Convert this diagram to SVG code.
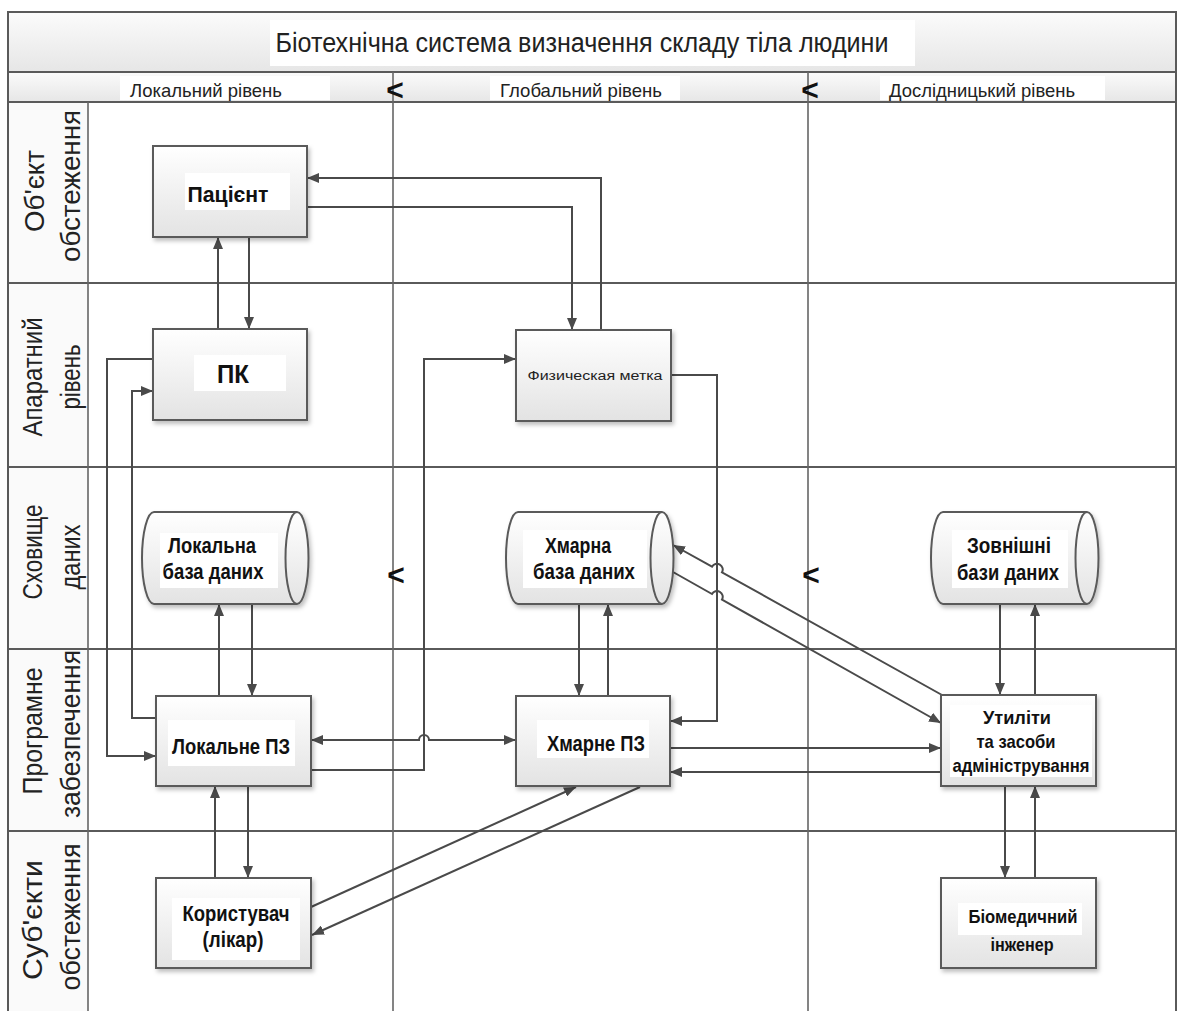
<svg xmlns="http://www.w3.org/2000/svg" width="1178" height="1011" viewBox="0 0 1178 1011">
<style>
.frame{fill:none;stroke:#5a5a5a;stroke-width:2}
.div{fill:none;stroke:#666;stroke-width:1.6}
.lane{font-family:"Liberation Sans Narrow","Liberation Sans",Arial,sans-serif;font-size:27px;fill:#222;text-anchor:middle}
.hdr{font-family:"Liberation Sans Narrow","Liberation Sans",Arial,sans-serif;font-size:19px;fill:#222;text-anchor:middle}
.ttl{font-family:"Liberation Sans Narrow","Liberation Sans",Arial,sans-serif;font-size:27px;fill:#222;text-anchor:middle}
.lbl{font-family:"Liberation Sans Narrow","Liberation Sans",Arial,sans-serif;font-weight:bold;font-size:22px;fill:#111;text-anchor:middle}
.s19{font-size:19px}
.sm{font-family:"Liberation Sans",Arial,sans-serif;font-size:12px;fill:#222;text-anchor:middle}
.lt{font-family:"Liberation Sans",Arial,sans-serif;font-weight:bold;font-size:30px;fill:#111;text-anchor:middle}
.box{fill:url(#g);stroke:#5a5a5a;stroke-width:2;filter:url(#sh)}
.cyl{fill:url(#g);stroke:#5a5a5a;stroke-width:2;filter:url(#sh)}
.in{fill:none;stroke:#5a5a5a;stroke-width:2}
.bg{fill:#fff}
.c{fill:none;stroke:#4a4a4a;stroke-width:2}
.c.e{marker-end:url(#ah)}
.c.b{marker-start:url(#ah);marker-end:url(#ah)}
</style>
<defs>
<linearGradient id="g" x1="0" y1="0" x2="0" y2="1">
<stop offset="0" stop-color="#ffffff"/>
<stop offset="1" stop-color="#e3e3e3"/>
</linearGradient>
<linearGradient id="hg" x1="0" y1="0" x2="0" y2="1">
<stop offset="0" stop-color="#fbfbfb"/>
<stop offset="1" stop-color="#e6e6e6"/>
</linearGradient>
<filter id="sh" x="-10%" y="-10%" width="130%" height="130%">
<feDropShadow dx="2" dy="3" stdDeviation="2" flood-color="#000" flood-opacity="0.25"/>
</filter>
<marker id="ah" viewBox="0 0 12 10" refX="12" refY="5" markerWidth="12" markerHeight="10" markerUnits="userSpaceOnUse" orient="auto-start-reverse">
<path d="M0,0 L12,5 L0,10 z" fill="#4a4a4a"/>
</marker>
</defs>

<g id="pool">
<rect x="8" y="12" width="1168" height="60" fill="url(#hg)"/>
<rect x="270" y="20" width="645" height="46" class="bg"/>
<rect x="8" y="72" width="1168" height="30" fill="url(#hg)"/>
<rect x="120" y="76" width="210" height="24" class="bg"/>
<rect x="490" y="76" width="190" height="24" class="bg"/>
<rect x="880" y="76" width="225" height="24" class="bg"/>
<rect x="8" y="102" width="80" height="909" fill="#fafafa"/>
<path class="frame" d="M8,1011 V12 H1176 V1011"/>
<path class="frame" d="M8,72 H1176 M8,102 H1176 M8,283 H1176 M8,467 H1176 M8,649 H1176 M8,831 H1176"/>
<path class="div" d="M88,102 V1011 M393,72 V1011 M808,72 V1011"/>
<text class="ttl" x="582" y="52" textLength="613" lengthAdjust="spacingAndGlyphs">Біотехнічна система визначення складу тіла людини</text>
<text class="hdr" x="206" y="97" textLength="152" lengthAdjust="spacingAndGlyphs">Локальний рівень</text>
<text class="hdr" x="581" y="97" textLength="162" lengthAdjust="spacingAndGlyphs">Глобальний рівень</text>
<text class="hdr" x="982" y="97" textLength="186" lengthAdjust="spacingAndGlyphs">Дослідницький рівень</text>
<text class="lt" x="395" y="100">&lt;</text>
<text class="lt" x="810" y="100">&lt;</text>
<text class="lt" x="396" y="585">&lt;</text>
<text class="lt" x="811" y="585">&lt;</text>
</g>

<g id="lane-labels">
<g transform="translate(44,191) rotate(-90)"><text class="lane" x="0" y="0" textLength="82" lengthAdjust="spacingAndGlyphs">Об'єкт</text></g>
<g transform="translate(80,186) rotate(-90)"><text class="lane" x="0" y="0" textLength="152" lengthAdjust="spacingAndGlyphs">обстеження</text></g>
<g transform="translate(42,377) rotate(-90)"><text class="lane" x="0" y="0" textLength="119" lengthAdjust="spacingAndGlyphs">Апаратний</text></g>
<g transform="translate(80,377) rotate(-90)"><text class="lane" x="0" y="0" textLength="65" lengthAdjust="spacingAndGlyphs">рівень</text></g>
<g transform="translate(42,552) rotate(-90)"><text class="lane" x="0" y="0" textLength="95" lengthAdjust="spacingAndGlyphs">Сховище</text></g>
<g transform="translate(80,557) rotate(-90)"><text class="lane" x="0" y="0" textLength="65" lengthAdjust="spacingAndGlyphs">даних</text></g>
<g transform="translate(42,731) rotate(-90)"><text class="lane" x="0" y="0" textLength="127" lengthAdjust="spacingAndGlyphs">Програмне</text></g>
<g transform="translate(80,734) rotate(-90)"><text class="lane" x="0" y="0" textLength="168" lengthAdjust="spacingAndGlyphs">забезпечення</text></g>
<g transform="translate(42,920) rotate(-90)"><text class="lane" x="0" y="0" textLength="120" lengthAdjust="spacingAndGlyphs">Суб'єкти</text></g>
<g transform="translate(80,917) rotate(-90)"><text class="lane" x="0" y="0" textLength="147" lengthAdjust="spacingAndGlyphs">обстеження</text></g>
</g>

<g id="connectors">
<path class="c e" d="M249,237 V329"/>
<path class="c e" d="M218,329 V237"/>
<path class="c e" d="M601,330 V178 H307"/>
<path class="c e" d="M307,207 H572 V330"/>
<path class="c e" d="M153,359 H107 V756 H156"/>
<path class="c e" d="M156,718 H132 V391 H153"/>
<path class="c e" d="M311,770 H424 V359 H516"/>
<path class="c b" d="M311,740 H419 A5,5 0 0 1 429,740 H516"/>
<path class="c e" d="M671,375 H717 V721 H670"/>
<path class="c e" d="M579,604 V696"/>
<path class="c e" d="M608,696 V604"/>
<path class="c e" d="M942,695 L722,572.3 A5.5,5.5 0 0 0 712,566.7 L673,545"/>
<path class="c e" d="M673,572 L712,594 A5.5,5.5 0 0 1 722,599.6 L941,723"/>
<path class="c e" d="M670,748 H941"/>
<path class="c e" d="M941,772 H670"/>
<path class="c e" d="M1000,604 V695"/>
<path class="c e" d="M1035,695 V604"/>
<path class="c e" d="M1005,786 V878"/>
<path class="c e" d="M1035,878 V786"/>
<path class="c e" d="M219,696 V604"/>
<path class="c e" d="M252,604 V696"/>
<path class="c e" d="M215,878 V786"/>
<path class="c e" d="M248,786 V878"/>
<path class="c e" d="M311,907 L576,787"/>
<path class="c e" d="M640,787 L312,935"/>
</g>

<g id="patient">
<rect class="box" x="153" y="146" width="154" height="91"/>
<rect class="bg" x="185" y="173" width="105" height="37"/>
<text class="lbl" x="228" y="202" textLength="81" lengthAdjust="spacingAndGlyphs">Пацієнт</text>
</g>
<g id="pc">
<rect class="box" x="153" y="329" width="154" height="91"/>
<rect class="bg" x="194" y="355" width="92" height="36"/>
<text class="lbl" x="233" y="383" style="font-size:26px" textLength="32" lengthAdjust="spacingAndGlyphs">ПК</text>
</g>
<g id="tag">
<rect class="box" x="516" y="330" width="155" height="91"/>
<text class="sm" x="595" y="380" textLength="135" lengthAdjust="spacingAndGlyphs">Физическая метка</text>
</g>
<g id="local-db">
<path class="cyl" d="M154,512 H297 A11.5,46 0 0 1 297,604 H154 A12,46 0 0 1 154,512 Z"/>
<path class="in" d="M297,512 A11.5,46 0 0 0 297,604"/>
<rect class="bg" x="160" y="533" width="118" height="55"/>
<text class="lbl" x="212" y="553" textLength="88" lengthAdjust="spacingAndGlyphs">Локальна</text>
<text class="lbl" x="213" y="579" textLength="101" lengthAdjust="spacingAndGlyphs">база даних</text>
</g>
<g id="cloud-db">
<path class="cyl" d="M518,512 H662 A11.5,46 0 0 1 662,604 H518 A12,46 0 0 1 518,512 Z"/>
<path class="in" d="M662,512 A11.5,46 0 0 0 662,604"/>
<rect class="bg" x="523" y="530" width="124" height="58"/>
<text class="lbl" x="578" y="553" textLength="66" lengthAdjust="spacingAndGlyphs">Хмарна</text>
<text class="lbl" x="584" y="579" textLength="102" lengthAdjust="spacingAndGlyphs">база даних</text>
</g>
<g id="ext-db">
<path class="cyl" d="M943,512 H1087 A11.5,46 0 0 1 1087,604 H943 A12,46 0 0 1 943,512 Z"/>
<path class="in" d="M1087,512 A11.5,46 0 0 0 1087,604"/>
<rect class="bg" x="952" y="530" width="116" height="58"/>
<text class="lbl" x="1009" y="553" textLength="84" lengthAdjust="spacingAndGlyphs">Зовнішні</text>
<text class="lbl" x="1008" y="580" textLength="102" lengthAdjust="spacingAndGlyphs">бази даних</text>
</g>
<g id="local-sw">
<rect class="box" x="156" y="696" width="155" height="90"/>
<rect class="bg" x="168" y="720" width="127" height="46"/>
<text class="lbl" x="231" y="754" textLength="118" lengthAdjust="spacingAndGlyphs">Локальне ПЗ</text>
</g>
<g id="cloud-sw">
<rect class="box" x="516" y="696" width="154" height="90"/>
<rect class="bg" x="537" y="720" width="112" height="38"/>
<text class="lbl" x="596" y="751" textLength="98" lengthAdjust="spacingAndGlyphs">Хмарне ПЗ</text>
</g>
<g id="utils">
<rect class="box" x="941" y="695" width="155" height="91"/>
<rect class="bg" x="950" y="705" width="142" height="72"/>
<text class="lbl s19" x="1017" y="724" textLength="68" lengthAdjust="spacingAndGlyphs">Утиліти</text>
<text class="lbl s19" x="1016" y="748" textLength="79" lengthAdjust="spacingAndGlyphs">та засоби</text>
<text class="lbl s19" x="1021" y="772" textLength="137" lengthAdjust="spacingAndGlyphs">адміністрування</text>
</g>
<g id="user">
<rect class="box" x="156" y="878" width="155" height="90"/>
<rect class="bg" x="172" y="898" width="128" height="62"/>
<text class="lbl" x="236" y="921" textLength="107" lengthAdjust="spacingAndGlyphs">Користувач</text>
<text class="lbl" x="233" y="947" textLength="61" lengthAdjust="spacingAndGlyphs">(лікар)</text>
</g>
<g id="engineer">
<rect class="box" x="941" y="878" width="155" height="90"/>
<rect class="bg" x="958" y="903" width="124" height="32"/>
<text class="lbl s19" x="1023" y="923" textLength="109" lengthAdjust="spacingAndGlyphs">Біомедичний</text>
<text class="lbl s19" x="1022" y="951" textLength="63" lengthAdjust="spacingAndGlyphs">інженер</text>
</g>
</svg>
